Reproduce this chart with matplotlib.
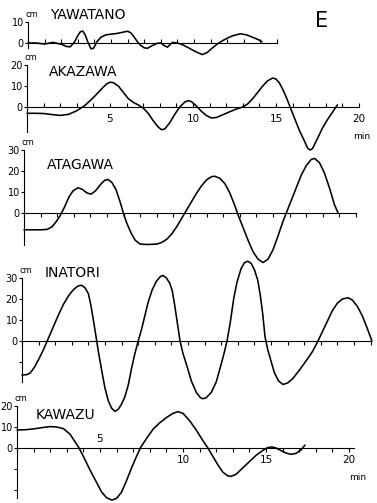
import matplotlib.pyplot as plt

W, H = 377, 503
PX_MIN = 16.6   # pixels per minute on the time axes
PX_CM = 2.1     # pixels per cm on the level axes

# tide records, time in min, level in cm
yaw_t = [0, 0.5, 1.0, 1.5, 2.0, 2.35, 2.55, 2.8, 3.0, 3.15, 3.3, 3.45, 3.6, 3.8, 3.95,
         4.15, 4.4, 4.7, 5.0, 5.4, 5.75, 6.0, 6.2, 6.4, 6.6, 6.8, 7.0, 7.2, 7.5, 7.8, 8.0,
         8.2, 8.4, 8.7, 9.0, 9.3, 9.6, 9.9, 10.2, 10.5, 10.8, 11.1, 11.4, 11.7, 12.0,
         12.35, 12.8, 13.2, 13.5, 13.85, 14.1]
yaw_v = [0, 0, -0.5, 0.3, -0.6, -1.7, -1.8, 0.5, 3.5, 5.3, 5.7, 3.8, 0.5, -2.8, -2.5,
         0.6, 2.8, 3.9, 4.2, 4.6, 5.2, 5.6, 4.8, 2.8, 0.5, -1.2, -2.3, -2.5, -1.2, -0.1, 0,
         -1.2, -2, 0.3, 0, -0.8, -2, -3.3, -4.5, -5.5, -4.5, -2.4, -0.5, 1, 2.3,
         3.5, 4.4, 3.8, 2.8, 1.7, 0.6]

aka_t = [0, 0.5, 1, 1.5, 2, 2.5, 3, 3.5, 4, 4.3, 4.6, 4.8, 5.0, 5.2, 5.5, 5.8, 6.1, 6.4,
         6.7, 7.0, 7.3, 7.6, 7.9, 8.1, 8.3, 8.6, 8.9, 9.2, 9.5, 9.7, 9.9, 10.2, 10.5, 10.8,
         11.1, 11.4, 11.8, 12.2, 12.6, 13.0, 13.3, 13.6, 13.9, 14.2, 14.5, 14.8, 15.0,
         15.2, 15.4, 15.6, 15.85, 16.1, 16.4, 16.7, 16.9, 17.05, 17.2, 17.5, 17.8, 18.1,
         18.4, 18.7]
aka_v = [-3, -3, -3.1, -3.6, -4, -3.5, -1.8, 0.8, 4.5, 7, 9.5, 11, 11.8, 11.6, 10, 7, 4,
         2.2, 1, -0.5, -3, -6.5, -9.5, -10.8, -10.5, -7.5, -3.5, 0, 2.3, 3, 2.6, 0.5, -2,
         -4, -5.2, -5, -3.7, -2.3, -1, 0, 1.5, 4, 7, 10, 12.5, 13.8, 13.3,
         11.5, 8.5, 5, 0, -5, -11, -16, -19.5, -20.5, -19.8, -15, -10, -6,
         -2.5, 1]

ata_t = [0, 0.5, 1.0, 1.4, 1.7, 1.95, 2.2, 2.45, 2.7, 2.95, 3.25, 3.5, 3.8, 4.05, 4.3,
         4.6, 4.85, 5.06, 5.3, 5.55, 5.8, 6.0, 6.2, 6.45, 6.7, 7.0, 7.4, 8.0, 8.3, 8.6,
         8.9, 9.2, 9.5, 9.8, 10.1, 10.4, 10.7, 11.0, 11.3, 11.5, 11.8, 12.1, 12.4, 12.7,
         12.9, 13.2, 13.5, 13.8, 14.1, 14.4, 14.7, 15.0, 15.3, 15.6, 15.85, 16.1, 16.4,
         16.7, 17.0, 17.3, 17.5, 17.8, 18.1, 18.4, 18.7, 18.92]
ata_v = [-8, -8, -8, -7.8, -6.5, -4, -1, 3, 7.5, 10.5, 12, 11.3, 9.5, 9, 10.5,
         13.5, 15.5, 16, 14.5, 11, 5, -0.5, -5, -9.5, -13, -14.8, -15, -14.8, -14, -12.5,
         -10, -6.5, -2.5, 1.5, 5.5, 9.5, 13, 15.8, 17.3, 17.5, 16.5, 14, 9.5, 3.5,
         -1, -7, -13, -18.5, -22, -23.6, -22, -17.5, -11, -4, 1, 6, 12,
         18, 22.5, 25.5, 26, 24, 19, 12, 4, 0]

ina_t = [0, 0.3, 0.5, 0.75, 1.0, 1.3, 1.6, 1.9, 2.2, 2.5, 2.8, 3.1, 3.4, 3.6, 3.8, 4.0,
         4.15, 4.3, 4.45, 4.6, 4.8, 5.0, 5.2, 5.4, 5.6, 5.8, 6.0, 6.2, 6.4, 6.6, 6.8, 7.0,
         7.2, 7.4, 7.6, 7.85, 8.1, 8.35, 8.5, 8.7, 8.9, 9.05, 9.2, 9.35, 9.52, 9.7, 9.94,
         10.2, 10.5, 10.75, 10.9, 11.1, 11.4, 11.7, 12.0, 12.2, 12.35, 12.55, 12.75, 12.95,
         13.2, 13.4, 13.6, 13.8, 14.0, 14.2, 14.35, 14.5, 14.64, 14.8, 15.0, 15.2, 15.45,
         15.72, 16.0, 16.3, 16.7, 17.2, 17.5, 17.83, 18.1, 18.4, 18.7, 19.0, 19.3, 19.64,
         19.9, 20.2, 20.5, 20.8, 21.08]
ina_v = [-16.2, -16, -15.2, -12.5, -8.8, -4, 1.5, 7, 12.5, 17.5, 21.5, 24.5, 26.3, 26.5,
         25.3, 22.5, 17, 10, 2.5, -5, -14, -22.5, -28.5, -32, -33.5, -32.5, -30, -26.5,
         -21, -13, -6, 0, 5.5, 12, 18.5, 24.5, 28.5, 30.8, 31.2, 30, 27.5, 24, 17, 9, 0,
         -6, -12, -19, -24.5, -27, -27.5, -27, -24.5, -19.5, -11, -5, 0, 9, 20, 28,
         34.5, 37.3, 38, 37, 34, 29, 22, 13, 2, -4, -9.5, -15, -19,
         -20.7, -20, -18, -14, -8.5, -5, 0, 4.5, 9.5, 14.5, 18, 20, 20.6,
         19.5, 16.5, 12, 6, 0]

kaw_t = [0, 0.5, 1.0, 1.5, 2.0, 2.4, 2.8, 3.2, 3.45, 3.7, 4.0, 4.4, 4.8, 5.1, 5.4, 5.72,
         6.0, 6.3, 6.6, 6.9, 7.2, 7.45, 7.8, 8.2, 8.6, 9.0, 9.4, 9.7, 10.0, 10.4, 10.8,
         11.2, 11.5, 11.8, 12.1, 12.4, 12.7, 12.9, 13.2, 13.6, 14.0, 14.4, 14.8, 15.1,
         15.35, 15.6, 15.9, 16.2, 16.5, 16.8, 17.1, 17.35]
kaw_v = [8.6, 8.7, 9.1, 9.7, 10.2, 10, 9.2, 6.5, 3.5, 0.5, -4, -10.5, -16.5, -21, -23.7,
         -24.8, -24, -21, -15.5, -9.5, -4, 0.3, 4.5, 9, 12, 14.5, 16.5, 17.3, 16.5, 13,
         8.5, 3.5, 0, -4, -8, -11.5, -13.3, -13.5, -12.5, -9.5, -6.5, -3.5, -1.2, 0.2,
         0.5, 0, -1.2, -2.4, -3, -2.6, -1, 1.4]

stations = ['YAWATANO', 'AKAZAWA', 'ATAGAWA', 'INATORI', 'KAWAZU']
series = [(yaw_t, yaw_v), (aka_t, aka_v), (ata_t, ata_v), (ina_t, ina_v), (kaw_t, kaw_v)]
y_ticks = [[10, 0], [20, 10, 0], [30, 20, 10, 0], [30, 20, 10, 0, -10], [20, 10, 0, -10, -20]]

# layout in pixels: origin x, zero-line y, axis length (min), lower end (cm), tick side, name pos
layout = [
    dict(x0=28, y0=43, tmax=15, ymin=-2.5, tdir='in', name=(50, 15)),
    dict(x0=27, y0=107, tmax=20, ymin=-12, tdir='in', name=(49, 72)),
    dict(x0=24, y0=213, tmax=20, ymin=-15, tdir='out', name=(47, 165)),
    dict(x0=22, y0=341, tmax=21, ymin=-19.5, tdir='out', name=(45, 273)),
    dict(x0=17, y0=448, tmax=20.3, ymin=-24, tdir='out', name=(36, 415)),
]

fig = plt.figure(figsize=(W / 100, H / 100), dpi=100)

axes = []
for name, (t, v), yt, lay in zip(stations, series, y_ticks, layout):
    ymax = yt[0]
    left = lay['x0'] / W
    width = lay['tmax'] * PX_MIN / W
    bottom = (H - (lay['y0'] - lay['ymin'] * PX_CM)) / H
    height = (ymax - lay['ymin']) * PX_CM / H
    ax = fig.add_axes([left, bottom, width, height])
    ax.set_facecolor('none')
    ax.set_xlim(0, lay['tmax'])
    ax.set_ylim(lay['ymin'], ymax)
    ax.plot(t, v, color='black', lw=1.15, clip_on=False,
            solid_joinstyle='round', solid_capstyle='round')

    for s in ['top', 'right']:
        ax.spines[s].set_visible(False)
    ax.spines['bottom'].set_position(('data', 0))
    ax.spines['bottom'].set_linewidth(0.8)
    ax.spines['left'].set_linewidth(0.8)

    ax.set_xticks(range(0, int(lay['tmax']) + 1))
    ax.set_xticklabels([])
    ax.tick_params(axis='x', direction=lay['tdir'], length=3, width=0.8)
    ax.set_yticks(yt)
    ax.set_yticklabels([str(y) if y >= 0 else '' for y in yt], fontsize=7)
    ax.tick_params(axis='y', direction='out', length=2.5, width=0.8, pad=0.5)
    ax.annotate('cm', xy=(0, ymax), xytext=(2.5, 2), textcoords='offset points',
                ha='center', va='bottom', fontsize=6)

    fig.text(lay['name'][0] / W, 1 - lay['name'][1] / H, name,
             fontsize=10, va='center', ha='left')
    axes.append(ax)

# minute labels on AKAZAWA and KAWAZU
ax = axes[1]
for m in [5, 10, 15, 20]:
    ax.annotate(str(m), xy=(m, 0), xytext=(0, -5), textcoords='offset points',
                ha='center', va='top', fontsize=7.5)
ax.annotate('min', xy=(20, 0), xytext=(2, -18), textcoords='offset points',
            ha='center', va='top', fontsize=6.5)

ax = axes[4]
ax.annotate('5', xy=(5, 0), xytext=(0, 3), textcoords='offset points',
            ha='center', va='bottom', fontsize=7.5)
for m in [10, 15, 20]:
    ax.annotate(str(m), xy=(m, 0), xytext=(0, -5), textcoords='offset points',
                ha='center', va='top', fontsize=7.5)
ax.annotate('min', xy=(20, 0), xytext=(6, -18), textcoords='offset points',
            ha='center', va='top', fontsize=6.5)

fig.text(322 / W, 1 - 21 / H, 'E', fontsize=15, ha='center', va='center')

fig.savefig('out.png', dpi=100)
